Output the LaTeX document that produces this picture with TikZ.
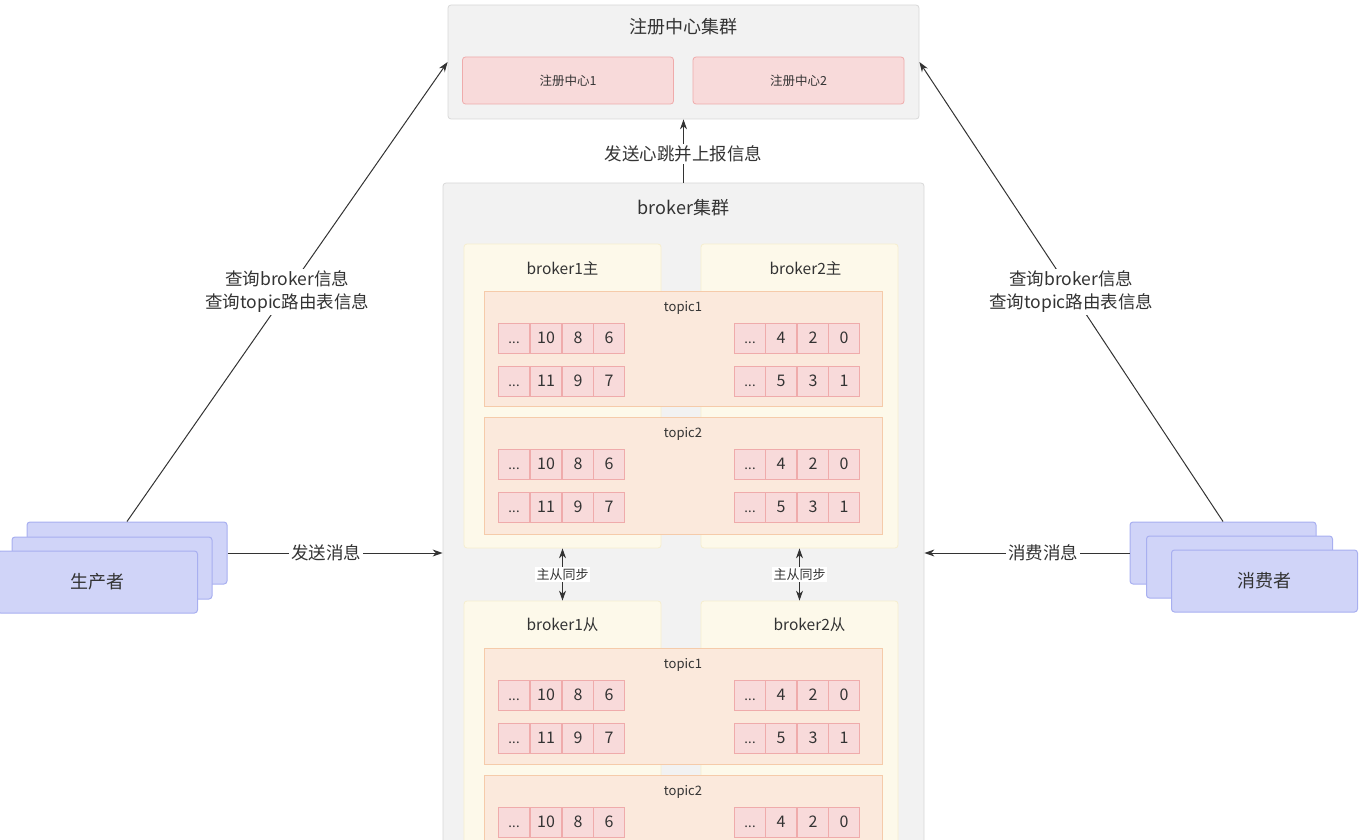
\documentclass[tikz,border=0pt]{standalone}
\usepackage{fontspec}
\setmainfont{Noto Sans CJK SC}
\usepackage{tikz}
\usetikzlibrary{arrows.meta, positioning}

\definecolor{clusterfill}{HTML}{F2F2F2}
\definecolor{clusterline}{HTML}{D8D8D8}
\definecolor{pinkfill}{HTML}{F8DADA}
\definecolor{pinkline}{HTML}{EFABAB}
\definecolor{brokerfill}{HTML}{FDF9EA}
\definecolor{brokerline}{HTML}{F6EECF}
\definecolor{topicfill}{HTML}{FBE9DC}
\definecolor{topicline}{HTML}{F5CBAA}
\definecolor{clientfill}{HTML}{D0D4F8}
\definecolor{clientline}{HTML}{A8AFF0}
\definecolor{ink}{HTML}{333333}

\newcommand{\celldots}{\vphantom{0}{\fontsize{13}{14}\selectfont .\kern0.3pt.\kern0.3pt.}}

\begin{document}
\begin{tikzpicture}[
    x=1pt, y=-1pt,
    every node/.style={text=ink},
    cluster/.style={rectangle, draw=clusterline, fill=clusterfill, rounded corners=3pt, line width=0.8pt},
    regbox/.style={rectangle, draw=pinkline, fill=pinkfill, rounded corners=3pt, line width=0.8pt, minimum width=211pt, minimum height=47pt, font=\fontsize{12.5}{15}\selectfont},
    brokerbox/.style={rectangle, draw=brokerline, fill=brokerfill, rounded corners=3pt, line width=0.8pt, minimum width=197pt},
    topicbox/.style={rectangle, draw=topicline, fill=topicfill, line width=0.8pt, minimum width=398pt},
    cell/.style={rectangle, draw=pinkline, fill=pinkfill, line width=0.8pt, minimum width=31.5pt, minimum height=30pt, inner sep=0pt, font=\fontsize{16}{18}\selectfont},
    client/.style={rectangle, draw=clientline, fill=clientfill, rounded corners=3pt, line width=1pt, minimum height=62pt},
    title/.style={inner sep=0pt, font=\fontsize{18}{21}\selectfont},
    subtitle/.style={inner sep=0pt, font=\fontsize{15.5}{18}\selectfont},
    small/.style={inner sep=0pt, font=\fontsize{13}{15}\selectfont},
    lbl/.style={fill=white, inner sep=2pt, align=center, font=\fontsize{17.5}{23}\selectfont},
    arrow/.style={draw=ink, line width=1pt, -{Stealth[length=10pt,width=7pt]}}
]
\useasboundingbox (0,0) rectangle (1366,840);
\clip (0,0) rectangle (1366,840);

% Registry cluster
\node (reg) [cluster, minimum width=471pt, minimum height=114pt] at (683.5,62) {};
\node (regTitle) [title, below=22pt of reg.north, anchor=center] {注册中心集群};
\node (reg1) [regbox] at (568,80.5) {注册中心1};
\node (reg2) [regbox] at (798.5,80.5) {注册中心2};

% Broker cluster
\node (broker) [cluster, minimum width=481pt, minimum height=717pt] at (683.5,541.5) {};
\node (brokerTitle) [title, below=25pt of broker.north, anchor=center] {broker集群};

\node (b1m) [brokerbox, minimum height=304pt] at (562.5,396) {};
\node (b2m) [brokerbox, minimum height=304pt] at (799.5,396) {};
\node (b1s) [brokerbox, minimum height=299pt] at (562.5,750.5) {};
\node (b2s) [brokerbox, minimum height=299pt] at (799.5,750.5) {};
\node (b1mTitle) [subtitle, below=25pt of b1m.north, anchor=center] {broker1主};
\node (b2mTitle) [subtitle, below=25pt of b2m.north, anchor=center, xshift=6pt] {broker2主};
\node (b1sTitle) [subtitle, below=24pt of b1s.north, anchor=center] {broker1从};
\node (b2sTitle) [subtitle, below=24pt of b2s.north, anchor=center, xshift=10pt] {broker2从};

% Topics with their queues
\foreach \t/\ty/\th/\tname in {m1/291/115/topic1, m2/417/117/topic2, s1/648/116/topic1, s2/775/117/topic2} {
  \node (topic-\t) [topicbox, minimum height=\th pt] at (683,\ty+\th/2) {};
  \node (topic-\t-title) [small, below=17pt of topic-\t.north, anchor=center] {\tname};
  \foreach \r/\dy/\la/\lb/\lc/\ra/\rb/\rc in {a/47/10/8/6/4/2/0, b/90/11/9/7/5/3/1} {
    \foreach \n/\cx/\v in {1/514/\celldots, 2/546/\la, 3/578/\lb, 4/609/\lc,
                           5/750/\celldots, 6/781/\ra, 7/813/\rb, 8/844/\rc}
      \node (cell-\t-\r-\n) [cell] at (\cx,\ty+\dy) {\v};
  }
}

% Producers and consumers
\node (prodA) [client, minimum width=200pt] at (127,553) {};
\node (prodB) [client, minimum width=200pt] at (112,568) {};
\node (prodC) [client, minimum width=200pt, font=\fontsize{18}{21}\selectfont] at (97.5,582) {生产者};
\node (consA) [client, minimum width=186pt] at (1223,553) {};
\node (consB) [client, minimum width=186pt] at (1239.5,567) {};
\node (consC) [client, minimum width=186pt, font=\fontsize{18}{21}\selectfont] at (1264.5,581) {消费者};

% Arrows
\draw [arrow] (broker.north) -- node (lblBeat) [lbl, pos=0.45] {发送心跳并上报信息} (reg.south);
\draw [arrow, {Stealth[length=10pt,width=7pt]}-{Stealth[length=10pt,width=7pt]}] (b1m.south) -- node (lblSync1) [fill=white, small, inner sep=1.5pt] {主从同步} (b1s.north);
\draw [arrow, {Stealth[length=10pt,width=7pt]}-{Stealth[length=10pt,width=7pt]}] (b2m.south) -- node (lblSync2) [fill=white, small, inner sep=1.5pt] {主从同步} (b2s.north);
\draw [arrow] (prodA.east) -- node (lblSend) [lbl, pos=0.46] {发送消息} (broker.west |- prodA.east);
\draw [arrow] (consA.west) -- node (lblConsume) [lbl, pos=0.42] {消费消息} (broker.east |- consA.west);
\draw [arrow] (prodA.north) -- node (lblQueryP) [lbl] {查询broker信息\\查询topic路由表信息} (reg.west);
\draw [arrow] (consA.north) -- node (lblQueryC) [lbl] {查询broker信息\\查询topic路由表信息} (reg.east);

\end{tikzpicture}
\end{document}
